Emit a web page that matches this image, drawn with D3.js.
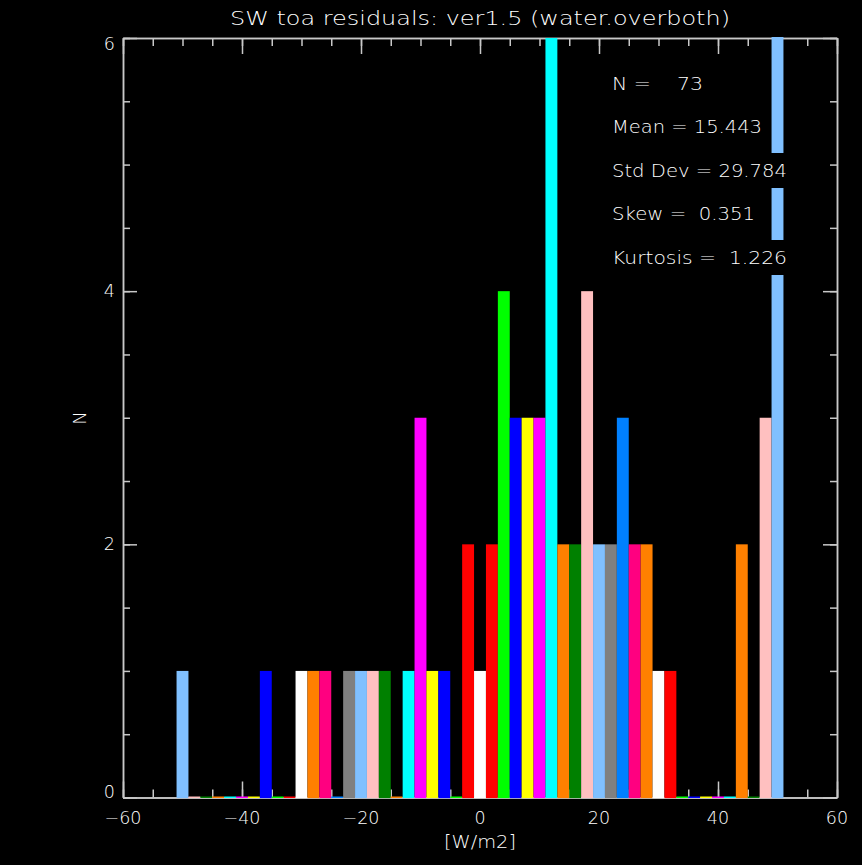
<!DOCTYPE html>
<html>
<head>
<meta charset="utf-8">
<script src="https://cdn.jsdelivr.net/npm/d3@7"></script>
<style>
  html, body { margin: 0; padding: 0; background: #000; }
  svg { display: block; }
  text { font-family: "DejaVu Sans", "Liberation Sans", sans-serif; font-weight: 200; fill: #ffffff; white-space: pre; }
</style>
</head>
<body>
<script>
// ---- data ----
const binCenters = d3.range(-50, 51, 2);
const counts = [1,0,0,0,0,0,0,1,0,0,1,1,1,0,1,1,1,1,0,1,3,1,1,0,2,1,2,4,3,3,3,6,2,2,4,2,2,3,2,2,1,1,0,0,0,0,0,2,0,3,8];
const binColorNames = ["lightblue","pink","darkgreen","orange","cyan","magenta","yellow","blue","green","red","white","orange","deeppink","azure","gray","lightblue","pink","darkgreen","orange","cyan","magenta","yellow","blue","green","red","white","red","green","blue","yellow","magenta","cyan","orange","darkgreen","pink","lightblue","gray","azure","deeppink","orange","white","red","green","blue","yellow","magenta","cyan","orange","darkgreen","pink","lightblue"];
const palette = {lightblue:"#80c0ff", pink:"#ffc0c0", darkgreen:"#008000", orange:"#ff8000", cyan:"#00ffff", magenta:"#ff00ff", yellow:"#ffff00", blue:"#0000ff", green:"#00ff00", red:"#ff0000", white:"#ffffff", deeppink:"#ff0080", azure:"#0080ff", gray:"#808080"};
const xMajorTicks = [-60,-40,-20,0,20,40,60];
const yMajorTicks = [0,2,4,6];
const titleText = "SW toa residuals: ver1.5 (water.overboth)";
const xTitle = "[W/m2]";
const yTitle = "N";
const statLines = ["N =    73", "Mean = 15.443", "Std Dev = 29.784", "Skew =  0.351", "Kurtosis =  1.226"];
const statWidths = [91, 150, 175, 143, 175];
const binWidth = 2;

// ---- layout ----
const W = 862, H = 865;
const L = 123, R = 837, T = 38, B = 797.5;
const axisColor = "#c8c8c8";

const svg = d3.select("body").append("svg").attr("width", W).attr("height", H);
svg.append("rect").attr("width", W).attr("height", H).attr("fill", "#000");

const x = d3.scaleLinear().domain([-60, 60]).range([L, R]);
const y = d3.scaleLinear().domain([0, 6]).range([B, T]);

// axes
const xMinor = d3.range(-60, 60.1, 5);
const yMinor = d3.range(0, 6.01, 0.5);

function styleAxis(g) {
  g.selectAll("path.domain").attr("stroke", axisColor).attr("stroke-width", 1.5);
  g.selectAll(".tick line").attr("stroke", axisColor).attr("stroke-width", 1.5);
  g.selectAll(".tick text").remove();
}

// bottom
svg.append("g").attr("transform", `translate(0,${B})`)
  .call(d3.axisBottom(x).tickValues(xMinor).tickSize(-8).tickSizeOuter(0)).call(styleAxis);
svg.append("g").attr("transform", `translate(0,${B})`)
  .call(d3.axisBottom(x).tickValues(xMajorTicks).tickSize(-16).tickSizeOuter(0)).call(styleAxis);
// top
svg.append("g").attr("transform", `translate(0,${T})`)
  .call(d3.axisTop(x).tickValues(xMinor).tickSize(-8).tickSizeOuter(0)).call(styleAxis);
svg.append("g").attr("transform", `translate(0,${T})`)
  .call(d3.axisTop(x).tickValues(xMajorTicks).tickSize(-16).tickSizeOuter(0)).call(styleAxis);
// left
svg.append("g").attr("transform", `translate(${L},0)`)
  .call(d3.axisLeft(y).tickValues(yMinor).tickSize(-7).tickSizeOuter(0)).call(styleAxis);
svg.append("g").attr("transform", `translate(${L},0)`)
  .call(d3.axisLeft(y).tickValues(yMajorTicks).tickSize(-14).tickSizeOuter(0)).call(styleAxis);
// right
svg.append("g").attr("transform", `translate(${R},0)`)
  .call(d3.axisRight(y).tickValues(yMinor).tickSize(-7).tickSizeOuter(0)).call(styleAxis);
svg.append("g").attr("transform", `translate(${R},0)`)
  .call(d3.axisRight(y).tickValues(yMajorTicks).tickSize(-14).tickSizeOuter(0)).call(styleAxis);

// tick labels
svg.append("g").selectAll("text").data(xMajorTicks).join("text")
  .attr("x", d => x(d)).attr("y", B + 26.5)
  .attr("text-anchor", "middle").attr("font-size", 17.5)
  .text(d => d3.format("")(d));
svg.append("g").selectAll("text").data(yMajorTicks).join("text")
  .attr("x", L - 8).attr("y", d => y(d) + (d === 6 ? 11.5 : d === 0 ? 0.5 : 6))
  .attr("text-anchor", "end").attr("font-size", 17.5)
  .text(d => d);

// bars
svg.append("clipPath").attr("id", "plotclip")
  .append("rect").attr("x", L - 1).attr("y", T - 1).attr("width", R - L + 2).attr("height", B - T + 2);
const bars = binCenters.map((c, i) => ({c, v: counts[i], col: palette[binColorNames[i]]}));
svg.append("g").attr("clip-path", "url(#plotclip)")
  .selectAll("rect").data(bars).join("rect")
  .attr("x", d => x(d.c - binWidth / 2))
  .attr("width", d => x(d.c + binWidth / 2) - x(d.c - binWidth / 2))
  .attr("y", d => d.v === 0 ? y(0) - 1 : y(d.v))
  .attr("height", d => d.v === 0 ? 1.5 : y(0) - y(d.v) + 0.75)
  .attr("fill", d => d.col);

// title
svg.append("text").attr("x", 480).attr("y", 25)
  .attr("text-anchor", "middle").attr("font-size", 20)
  .attr("textLength", 500).attr("lengthAdjust", "spacingAndGlyphs")
  .text(titleText);

// axis titles
svg.append("text").attr("x", 480).attr("y", 848)
  .attr("text-anchor", "middle").attr("font-size", 18)
  .attr("textLength", 72).attr("lengthAdjust", "spacingAndGlyphs")
  .text(xTitle);
svg.append("text").attr("transform", "translate(86,418) rotate(-90)")
  .attr("text-anchor", "middle").attr("font-size", 18)
  .text(yTitle);

// stats block (text drawn over a black box)
const statG = svg.append("g");
statLines.forEach((s, i) => {
  const by = 89.5 + i * 43.5;
  statG.append("rect").attr("x", 607).attr("y", by - 23.5)
    .attr("width", statWidths[i] + 10).attr("height", 35).attr("fill", "#000");
  statG.append("text").attr("x", 612).attr("y", by)
    .attr("font-size", 18)
    .attr("textLength", statWidths[i]).attr("lengthAdjust", "spacingAndGlyphs")
    .text(s);
});
</script>
</body>
</html>
